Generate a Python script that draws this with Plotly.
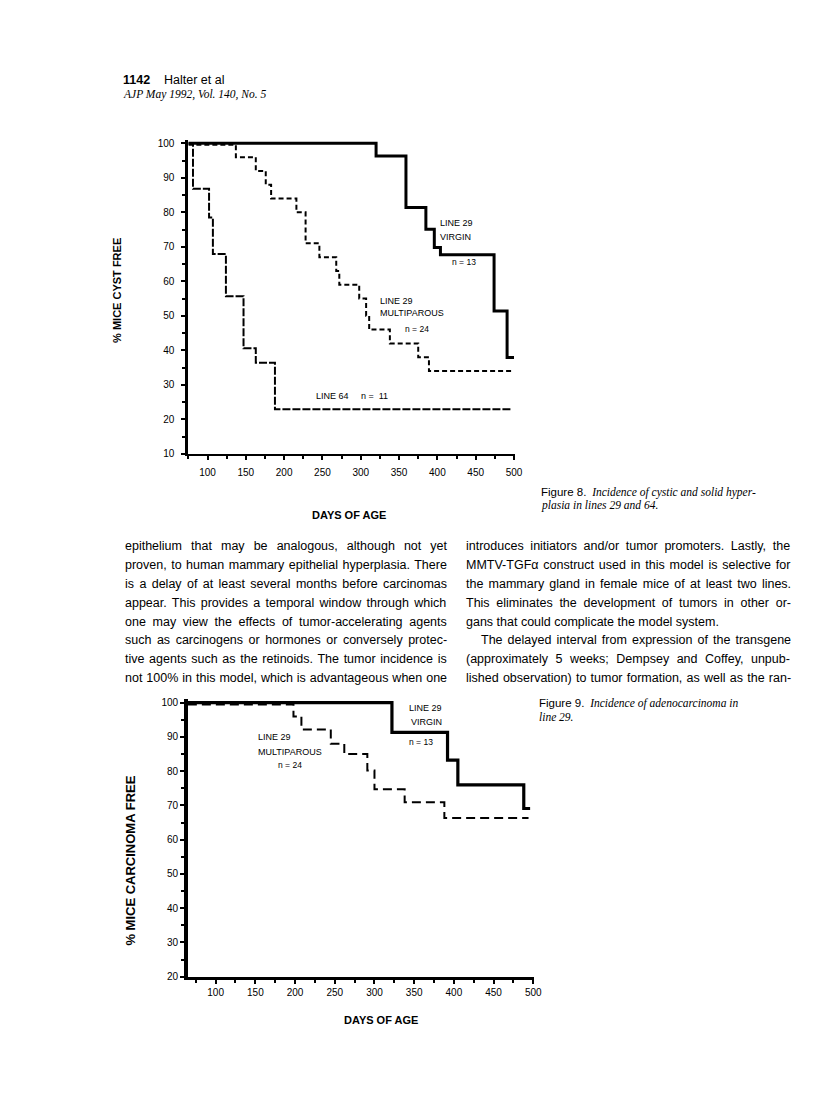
'''
Two Kaplan-Meier style step charts from a scanned journal page (Halter et al, AJP 1992),
with the surrounding page text kept as annotations.
'''
import plotly.graph_objects as go

W, H = 816, 1110
OFF = 8  # default body margin of the html page

# ---- Figure 8 data (top chart) ----
fig8_line64_days = [75, 81, 102, 107, 124, 147, 163, 188, 496]
fig8_line64_pct = [100, 86.8, 78.5, 67.9, 55.7, 40.6, 36.4, 22.9, 22.9]

fig8_multi_days = [75, 137, 163, 176, 183, 216, 228, 246, 268, 272, 298, 307, 311, 338, 375, 389, 500]
fig8_multi_pct = [99.6, 96, 92, 88, 84, 80, 71, 67, 63, 59, 55, 50, 46, 42, 38, 34, 34]

fig8_virgin_days = [75, 320, 359, 385, 396, 404, 474, 491, 500]
fig8_virgin_pct = [100, 96.3, 81.4, 75.1, 69.8, 67.7, 51.4, 37.9, 37.9]

# ---- Figure 9 data (bottom chart) ----
fig9_virgin_days = [65, 322, 392, 405, 488, 496]
fig9_virgin_pct = [100, 91.3, 83.2, 76.0, 69.1, 69.1]

fig9_multi_days = [65, 198, 208, 245, 262, 291, 300, 338, 388, 494]
fig9_multi_pct = [99.5, 96.0, 92.2, 88.0, 85.0, 80.2, 74.7, 70.9, 66.3, 66.3]

# ---- page text ----
left_col = [
    "epithelium that may be analogous, although not yet",
    "proven, to human mammary epithelial hyperplasia. There",
    "is a delay of at least several months before carcinomas",
    "appear. This provides a temporal window through which",
    "one may view the effects of tumor-accelerating agents",
    "such as carcinogens or hormones or conversely protec-",
    "tive agents such as the retinoids. The tumor incidence is",
    "not 100% in this model, which is advantageous when one",
]
right_col = [
    "introduces initiators and/or tumor promoters. Lastly, the",
    "MMTV-TGFα construct used in this model is selective for",
    "the mammary gland in female mice of at least two lines.",
    "This eliminates the development of tumors in other or-",
    "gans that could complicate the model system.",
    "The delayed interval from expression of the transgene",
    "(approximately 5 weeks; Dempsey and Coffey, unpub-",
    "lished observation) to tumor formation, as well as the ran-",
]
right_indent = [0, 0, 0, 0, 0, 15, 0, 0]
right_ragged = [False, False, False, False, True, False, False, False]

SANS = "Liberation Sans, Arial, sans-serif"
SERIF = "Liberation Serif, Times New Roman, serif"

# rough Arial advance widths (per 1000 em) used to justify the body text
_widths = {}
for chars, w in [("ijl", 222), ("ftI/ .,;:!", 278), ("r-()", 333), ("Jckvxyzs", 500),
                 ("abdeghnopqu0123456789", 556), ("α", 578), ("FTZ", 611),
                 ("ABEKPSVXY", 667), ("CDHNRUw", 722), ("GOQ", 778), ("mM", 833),
                 ("%", 889), ("W", 944)]:
    for c in chars:
        _widths[c] = w


def text_width(s, size):
    return sum(_widths.get(c, 556) for c in s) * size / 1000.0


def px(x):
    return (x - OFF) / W


def py(y):
    return 1 - (y - OFF) / H


def domain(p1, v1, p2, v2, r0, r1, vertical=False):
    # map a data range to a paper domain from two known pixel anchors
    k = (p2 - p1) / (v2 - v1)
    a, b = p1 + (r0 - v1) * k, p1 + (r1 - v1) * k
    if vertical:
        return sorted([py(a), py(b)])
    return sorted([px(a), px(b)])


fig = go.Figure()


def step(x, y, xa, ya, dash, width):
    fig.add_trace(go.Scatter(
        x=x, y=y, mode="lines", line_shape="hv",
        line=dict(color="black", width=width, dash=dash),
        xaxis=xa, yaxis=ya, showlegend=False, hoverinfo="skip"
    ))


step(fig8_line64_days, fig8_line64_pct, "x", "y", "8px,2px", 2)
step(fig8_multi_days, fig8_multi_pct, "x", "y", "5px,3px", 2)
step(fig8_virgin_days, fig8_virgin_pct, "x", "y", "solid", 3)

step(fig9_multi_days, fig9_multi_pct, "x2", "y2", "9px,5px", 2)
step(fig9_virgin_days, fig9_virgin_pct, "x2", "y2", "solid", 3.2)

tick_font = dict(family=SANS, size=10, color="black")
common_x = dict(showgrid=False, zeroline=False, showline=True, linecolor="black",
                ticks="outside", ticklen=4, tickwidth=1.5, tickcolor="black",
                tickmode="linear", tick0=0, dtick=50, tickfont=tick_font,
                minor=dict(tick0=0, dtick=25, ticks="outside", ticklen=3,
                           tickwidth=1.5, tickcolor="black"))
common_y = dict(showgrid=False, zeroline=False, showline=True, linecolor="black",
                ticks="outside", ticklen=4, tickwidth=1.5, tickcolor="black",
                tickmode="linear", tick0=0, dtick=10, tickfont=tick_font,
                minor=dict(tick0=0, dtick=5, ticks="outside", ticklen=3,
                           tickwidth=1.5, tickcolor="black"))

fig.update_layout(
    width=W, height=H,
    margin=dict(l=0, r=0, t=0, b=0),
    paper_bgcolor="white", plot_bgcolor="white",
    xaxis=dict(common_x, range=[75, 501], linewidth=2, ticklabelstandoff=4,
               domain=domain(209.5, 100, 519, 500, 75, 501), anchor="y"),
    yaxis=dict(common_y, range=[10, 101], linewidth=3, ticklabelstandoff=5,
               domain=domain(142.3, 100, 455, 10, 10, 101, vertical=True), anchor="x"),
    xaxis2=dict(common_x, range=[65, 501], linewidth=3,
                domain=domain(217.7, 100, 538.5, 500, 65, 501), anchor="y2"),
    yaxis2=dict(common_y, range=[20, 101], linewidth=3.5,
                domain=domain(705.7, 100, 981.7, 20, 20, 101, vertical=True), anchor="x2"),
)


def note(text, x, y, size=9, bold=False, family=SANS, xanchor="left", angle=0):
    if bold:
        text = "<b>" + text + "</b>"
    fig.add_annotation(text=text, x=px(x), y=py(y), xref="paper", yref="paper",
                       showarrow=False, xanchor=xanchor, yanchor="middle", align=xanchor,
                       textangle=angle, borderpad=0,
                       font=dict(family=family, size=size, color="black"))


def justified(line, width, size):
    gaps = line.count(" ")
    extra = (width - text_width(line, size)) / max(gaps, 1)
    return "<span style='word-spacing:%.2fpx'>%s</span>" % (extra, line)


# page header
note("1142", 123, 79, size=12.5, bold=True)
note("Halter et al", 165, 79, size=12.5)
note("<i>AJP May 1992, Vol. 140, No. 5</i>", 123, 93, size=11.5, family=SERIF)

# figure 8 labels
note("LINE 29", 443, 223)
note("VIRGIN", 443, 237)
note("n = 13", 455, 262, size=8.5)
note("LINE 29", 383, 301)
note("MULTIPAROUS", 383, 313)
note("n = 24", 408, 329, size=8.5)
note("LINE 64&#160;&#160;&#160;&#160;&#160;n =&#160; 11", 318, 397)
note("% MICE CYST FREE", 118, 290, size=11, bold=True, xanchor="center", angle=-90)
note("DAYS OF AGE", 352, 517, size=11, bold=True, xanchor="center")

fig_font = "<span style='font-family:Liberation Sans'>%s</span>"
note(fig_font % "Figure 8." + "  <i>Incidence of cystic and solid hyper-</i>", 545, 494,
     size=11.5, family=SERIF)
note("<i>plasia in lines 29 and 64.</i>", 545, 507, size=11.5, family=SERIF)

# body text, two justified columns
BODY = 12.5
for i, line in enumerate(left_col):
    note(justified(line, 447 - 125, BODY), 125, 548 + i * 19, size=BODY)
for i, line in enumerate(right_col):
    x0 = 470 + right_indent[i]
    txt = line if right_ragged[i] else justified(line, 795 - x0, BODY)
    note(txt, x0, 548 + i * 19, size=BODY)

# figure 9 labels
note("LINE 29", 430, 711, xanchor="center")
note("VIRGIN", 431, 725, xanchor="center")
note("n = 13", 425, 745, size=8.5, xanchor="center")
note("LINE 29", 277, 740, xanchor="center")
note("MULTIPAROUS", 293, 755, xanchor="center")
note("n = 24", 293, 768, size=8.5, xanchor="center")
note("% MICE CARCINOMA FREE", 132, 865, size=13, bold=True, xanchor="center", angle=-90)
note("DAYS OF AGE", 385, 1025, size=11, bold=True, xanchor="center")

note(fig_font % "Figure 9." + "  <i>Incidence of adenocarcinoma in</i>", 543, 707,
     size=11.5, family=SERIF)
note("<i>line 29.</i>", 543, 720, size=11.5, family=SERIF)

fig.write_html("out.html")
